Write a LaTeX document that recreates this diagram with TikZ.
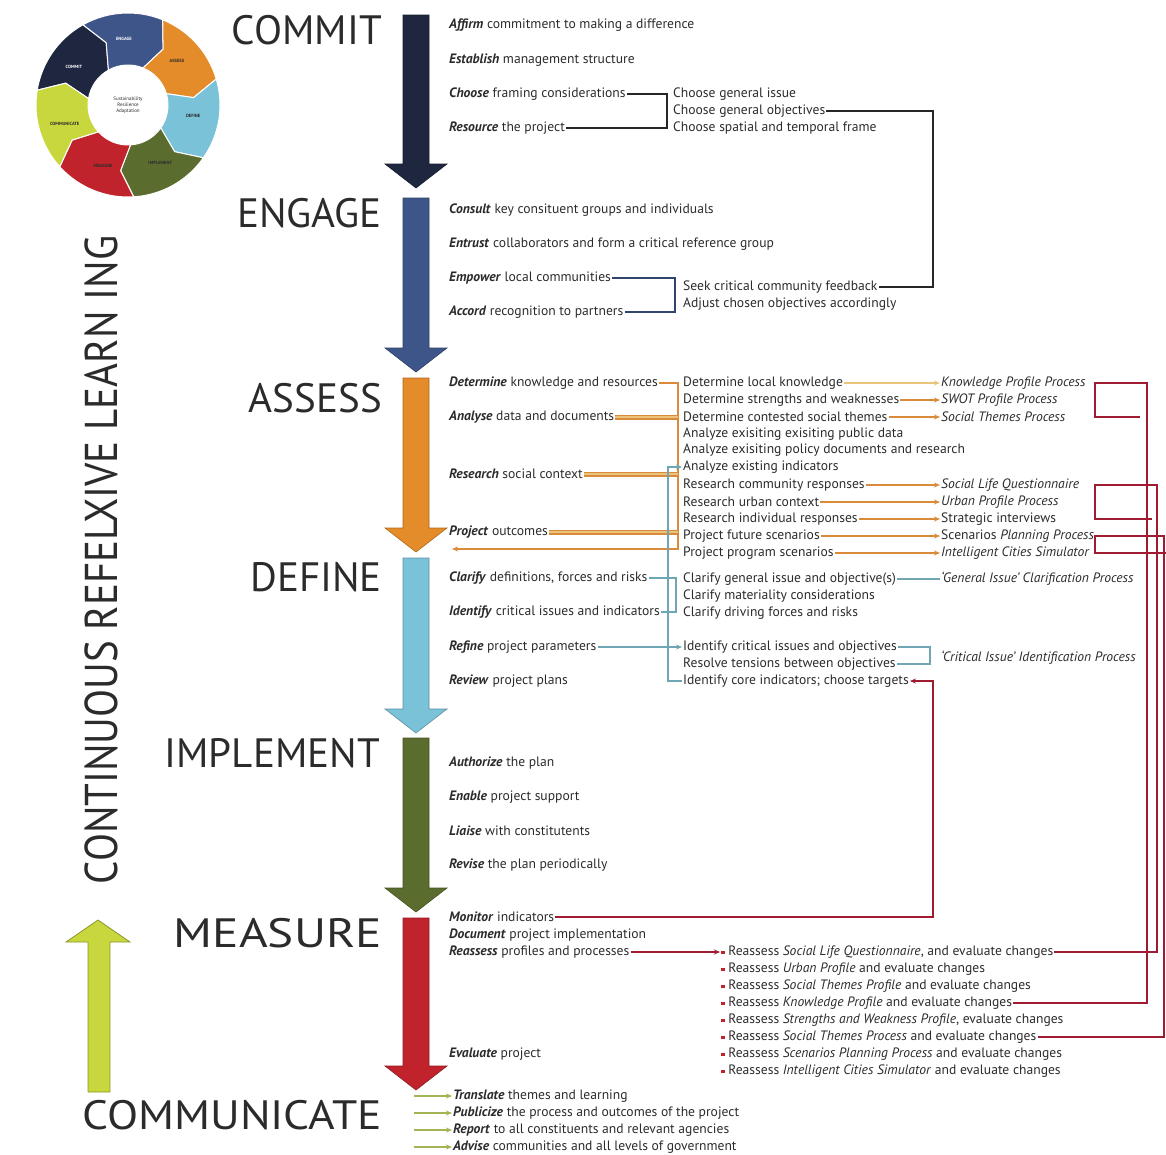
\documentclass[tikz,border=0pt]{standalone}
\usepackage{fontspec}
\setmainfont{PT Sans}
\usetikzlibrary{arrows.meta,calc}

\definecolor{navyC}{HTML}{1E2640}
\definecolor{engC}{HTML}{3D5588}
\definecolor{assC}{HTML}{E48B2A}
\definecolor{defC}{HTML}{79C2D8}
\definecolor{impC}{HTML}{5A6D2F}
\definecolor{meaC}{HTML}{C0232B}
\definecolor{comC}{HTML}{C9D73E}
\definecolor{txtC}{HTML}{2B2B2B}
\definecolor{orgL}{HTML}{D98A3A}
\definecolor{orgY}{HTML}{EBC47C}
\definecolor{bluL}{HTML}{6FA6B3}
\definecolor{redL}{HTML}{9E1B32}
\definecolor{grnL}{HTML}{A3B453}

\newcommand{\vb}[1]{\textbf{\textit{#1}}}
\newcommand{\rbul}{\textcolor{meaC}{\raisebox{1pt}{\rule{3.5pt}{3.5pt}}}\ }

\begin{document}
\begin{tikzpicture}[x=1pt,y=-1pt,
    >={Stealth[length=6pt,width=5pt]},
    item/.style={anchor=west,inner sep=1pt,text=txtC,font=\fontsize{13.6}{14}\selectfont},
    proc/.style={item,font=\fontsize{13.6}{14}\selectfont\itshape},
    stage/.style={anchor=east,inner sep=0pt,text=txtC,font=\fontsize{41}{41}\selectfont},
    blk/.style={draw=black!85,line width=2.8pt},
    navl/.style={draw=engC!80!black,line width=2.6pt},
    orgl/.style={draw=orgL,line width=2.2pt},
    orgd/.style={draw=orgL,double=orgY,double distance=1.8pt,line width=1.6pt},
    blul/.style={draw=bluL,line width=2.4pt},
    redl/.style={draw=redL,line width=2.6pt},
    grnl/.style={draw=grnL,line width=2.6pt}]
\useasboundingbox (0,0) rectangle (1166,1154);

% cycle
\begin{scope}[shift={(128,105)}]
  \foreach \fc/\lab/\tc [count=\i from 0] in {navyC/COMMIT/white, engC/ENGAGE/white,
      assC/ASSESS/txtC, defC/DEFINE/txtC, impC/IMPLEMENT/txtC, meaC/MEASURE/txtC,
      comC/COMMUNICATE/txtC}{
    \pgfmathsetmacro{\c}{145-51.43*\i}
    \pgfmathsetmacro{\s}{\c+25.7}
    \pgfmathsetmacro{\e}{\c-25.7}
    \pgfmathsetmacro{\st}{\s-10}
    \pgfmathsetmacro{\et}{\e-10}
    \filldraw[fill=\fc,draw=white,line width=1pt] (\s:92pt) arc[start angle=\s,end angle=\e,radius=92pt]
      -- (\et:66pt) -- (\e:40pt) arc[start angle=\e,end angle=\s,radius=40pt] -- (\st:66pt) -- cycle;
    \node[font=\fontsize{4.5}{5}\selectfont\bfseries,text=\tc] (cyc\i) at (\c:66pt) {\lab};
  }
  \node[align=center,text=txtC,font=\fontsize{5}{6}\selectfont] (cyccenter) at (0,0) {Sustainability\\Resilience\\Adaptation};
\end{scope}

% stage arrows
\foreach \fc/\ytop/\ytip in {navyC/15/188, engC/198/372, assC/378/552, defC/558/733, impC/738/912, meaC/918/1090}
  \filldraw[fill=\fc,draw=\fc!75!black,line width=0.6pt] (403,\ytop) -- (429,\ytop) -- (429,\ytip-24)
    -- (447,\ytip-24) -- (416,\ytip) -- (385,\ytip-24) -- (403,\ytip-24) -- cycle;

\filldraw[fill=comC,draw=comC!70!black,line width=0.8pt] (88,1092) -- (88,942) -- (66,942) -- (98,920)
  -- (130,942) -- (110,942) -- (110,1092) -- cycle;

\node[rotate=90,text=txtC,font=\fontsize{46}{46}\selectfont] (learn) at (101,560)
  {\scalebox{0.89}[1]{CONTINUOUS REFELXIVE LEARN ING}};

% stage titles
\node[stage] (tcommit) at (382,30) {COMMIT};
\node[stage] (tengage) at (382,213) {ENGAGE};
\node[stage] (tassess) at (382,398) {ASSESS};
\node[stage] (tdefine) at (382,577) {DEFINE};
\node[stage] (timpl) at (380,753) {IMPLEMENT};
\node[stage] (tmeasure) at (382,933) {\scalebox{1.2}[1]{MEASURE}};
\node[stage] (tcomm) at (382,1115) {\scalebox{1.11}[1]{COMMUNICATE}};

% commit
\node[item] (affirm) at (448,25) {\vb{Affirm} commitment to making a difference};
\node[item] (establish) at (448,60) {\vb{Establish} management structure};
\node[item] (choose) at (448,94) {\vb{Choose} framing considerations};
\node[item] (resource) at (448,128) {\vb{Resource} the project};
\node[item] (cgi) at (672,94) {Choose general issue};
\node[item] (cgo) at (672,111) {Choose general objectives};
\node[item] (csf) at (672,128) {Choose spatial and temporal frame};

% engage
\node[item] (consult) at (448,210) {\vb{Consult} key consituent groups and individuals};
\node[item] (entrust) at (448,244) {\vb{Entrust} collaborators and form a critical reference group};
\node[item] (empower) at (448,278) {\vb{Empower} local communities};
\node[item] (accord) at (448,312) {\vb{Accord} recognition to partners};
\node[item] (seek) at (682,287) {Seek critical community feedback};
\node[item] (adjust) at (682,304) {Adjust chosen objectives accordingly};

% assess
\node[item] (determine) at (448,383) {\vb{Determine} knowledge and resources};
\node[item] (analyse) at (448,417) {\vb{Analyse} data and documents};
\node[item] (research) at (448,474) {\vb{Research} social context};
\node[item] (project) at (448,532) {\vb{Project} outcomes};
\node[item] (dlk) at (682,383) {Determine local knowledge};
\node[item] (dsw) at (682,400) {Determine strengths and weaknesses};
\node[item] (dcs) at (682,417) {Determine contested social themes};
\node[item] (aep) at (682,434) {Analyze exisiting exisiting public data};
\node[item] (apd) at (682,450) {Analyze exisiting policy documents and research};
\node[item] (aei) at (682,467) {Analyze existing indicators};
\node[item] (rcr) at (682,485) {Research community responses};
\node[item] (ruc) at (682,502) {Research urban context};
\node[item] (rir) at (682,519) {Research individual responses};
\node[item] (pfs) at (682,536) {Project future scenarios};
\node[item] (pps) at (682,553) {Project program scenarios};
\node[proc] (kpp) at (940,383) {Knowledge Profile Process};
\node[proc] (swot) at (940,400) {SWOT Profile Process};
\node[proc] (stp) at (940,417) {Social Themes Process};
\node[proc] (slq) at (940,485) {Social Life Questionnaire};
\node[proc] (upp) at (940,502) {Urban Profile Process};
\node[item] (sint) at (940,519) {Strategic interviews};
\node[proc] (spp) at (940,536) {\upshape Scenarios \itshape Planning Process};
\node[proc] (ics) at (940,553) {Intelligent Cities Simulator};

% define
\node[item] (clarify) at (448,578) {\vb{Clarify} definitions, forces and risks};
\node[item] (identify) at (448,612) {\vb{Identify} critical issues and indicators};
\node[item] (refine) at (448,647) {\vb{Refine} project parameters};
\node[item] (review) at (448,681) {\vb{Review} project plans};
\node[item] (cgio) at (682,579) {Clarify general issue and objective(s)};
\node[item] (cmc) at (682,596) {Clarify materiality considerations};
\node[item] (cdf) at (682,613) {Clarify driving forces and risks};
\node[item] (icio) at (682,647) {Identify critical issues and objectives};
\node[item] (rtbo) at (682,664) {Resolve tensions between objectives};
\node[item] (core) at (682,681) {Identify core indicators; choose targets};
\node[proc] (gicp) at (940,579) {`General Issue' Clarification Process};
\node[proc] (ciip) at (940,658) {`Critical Issue' Identification Process};

% implement
\node[item] (authorize) at (448,763) {\vb{Authorize} the plan};
\node[item] (enable) at (448,797) {\vb{Enable} project support};
\node[item] (liaise) at (448,831) {\vb{Liaise} with constitutents};
\node[item] (revise) at (448,865) {\vb{Revise} the plan periodically};

% measure
\node[item] (monitor) at (448,917) {\vb{Monitor} indicators};
\node[item] (document) at (448,935) {\vb{Document} project implementation};
\node[item] (reassess) at (448,952) {\vb{Reassess} profiles and processes};
\node[item] (evaluate) at (448,1054) {\vb{Evaluate} project};
\node[item] (r1) at (720,952) {\rbul Reassess \textit{Social Life Questionnaire}, and evaluate changes};
\node[item] (r2) at (720,969) {\rbul Reassess \textit{Urban Profile} and evaluate changes};
\node[item] (r3) at (720,986) {\rbul Reassess \textit{Social Themes Profile} and evaluate changes};
\node[item] (r4) at (720,1003) {\rbul Reassess \textit{Knowledge Profile} and evaluate changes};
\node[item] (r5) at (720,1020) {\rbul Reassess \textit{Strengths and Weakness Profile}, evaluate changes};
\node[item] (r6) at (720,1037) {\rbul Reassess \textit{Social Themes Process} and evaluate changes};
\node[item] (r7) at (720,1054) {\rbul Reassess \textit{Scenarios Planning Process} and evaluate changes};
\node[item] (r8) at (720,1071) {\rbul Reassess \textit{Intelligent Cities Simulator} and evaluate changes};

% communicate
\node[item] (translate) at (452,1096) {\vb{Translate} themes and learning};
\node[item] (publicize) at (452,1113) {\vb{Publicize} the process and outcomes of the project};
\node[item] (report) at (452,1130) {\vb{Report} to all constituents and relevant agencies};
\node[item] (advise) at (452,1147) {\vb{Advise} communities and all levels of government};

% bracket columns
\coordinate (bk1) at (667,0);
\coordinate (bk2) at (933,0);
\coordinate (bk3) at (675,0);
\coordinate (bk4) at (678,0);
\coordinate (bk5) at (668,0);
\coordinate (bk6) at (676,0);
\coordinate (bk7) at (930,0);
\coordinate (bk8) at (933,0);
\coordinate (bkback) at (452,549);
\coordinate (rx1) at (1147,0);
\coordinate (rx2) at (1157,0);
\coordinate (rx3) at (1164,0);
\coordinate (bx) at (1095,0);

% connectors
\draw[blk] (choose.east) -| (bk1 |- resource.east) -- (resource.east);
\draw[blk] (cgo.east) -| (bk2 |- seek.east) -- (seek.east);
\draw[navl] (empower.east) -| (bk3 |- accord.east) -- (accord.east);

\draw[orgl,->] (determine.east) -| (bk4 |- bkback) -- (bkback);
\draw[orgd] (analyse.east) -- (analyse.east -| bk4);
\draw[orgd] (research.east) -- (research.east -| bk4);
\draw[orgd] (project.east) -- (project.east -| bk4);
\draw[draw=orgY,line width=2.2pt,->] (dlk.east) -- (kpp.west);
\foreach \a/\b in {dsw/swot, dcs/stp, rcr/slq, ruc/upp, rir/sint, pfs/spp, pps/ics}
  \draw[orgl,->] (\a.east) -- (\b.west);

\draw[blul,<-] (aei.west) -| (bk5 |- core.west) -- (core.west);
\draw[blul] (clarify.east) -| (bk6 |- identify.east) -- (identify.east);
\draw[blul,->] (refine.east) -- (icio.west);
\draw[blul] (cgio.east) -- (gicp.west);
\draw[blul] (icio.east) -| (bk7 |- rtbo.east) -- (rtbo.east);

\draw[redl,->] (monitor.east) -| (bk8 |- core.east) -- (core.east);
\draw[redl,->] (reassess.east) -- (r1.west);
\draw[redl] (r4.east) -| (rx1 |- kpp.east) -| (bx |- stp.east) -- ++(45,0);
\draw[redl] (r1.east) -| (rx2 |- slq.east) -| (bx |- sint.east) -- ++(57,0);
\draw[redl] (r6.east) -| (rx3 |- spp.east) -| (bx |- ics.east) -- ++(71,0);

\foreach \n in {translate, publicize, report, advise}
  \draw[grnl,->] (\n.west) ++(-38,0) -- (\n.west);
\end{tikzpicture}
\end{document}
